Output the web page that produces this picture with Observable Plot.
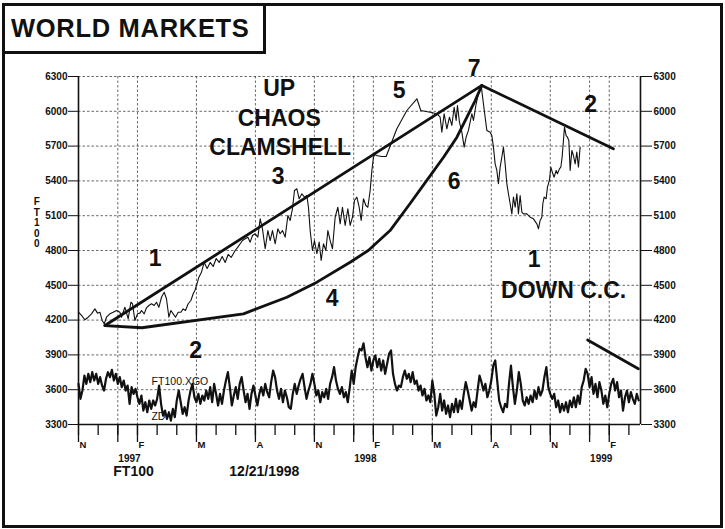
<!DOCTYPE html>
<html>
<head>
<meta charset="utf-8">
<script src="https://cdn.jsdelivr.net/npm/d3@7"></script>
<script src="https://cdn.jsdelivr.net/npm/@observablehq/plot@0.6"></script>
<style>
html,body{margin:0;padding:0;background:#fff;}
#page{position:relative;width:725px;height:529px;overflow:hidden;font-family:"Liberation Sans",Arial,sans-serif;}
#chart{position:absolute;left:0;top:0;}
#border{position:absolute;left:2px;top:3px;width:715px;height:519px;border:3px solid #111;}
#titlebox{position:absolute;left:2px;top:3px;width:258px;height:45px;border:3px solid #111;}
#title{position:absolute;left:11px;top:16px;font-size:25.5px;line-height:25px;font-weight:bold;letter-spacing:0.7px;color:#111;white-space:nowrap;}
</style>
</head>
<body>
<div id="page">
  <div id="chart"></div>
  <div id="border"></div>
  <div id="titlebox"></div>
  <div id="title">WORLD MARKETS</div>
</div>
<script>
// ---- axes / ticks ----
const xDomain = [0, 28.59];            // months since Nov 1996
const yDomain = [3300, 6300];
const yTicks = [3300, 3600, 3900, 4200, 4500, 4800, 5100, 5400, 5700, 6000, 6300];
const yGrid = [3600, 3900, 4200, 4500, 4800, 5100, 5400, 5700, 6000, 6300];
const allMonths = [0,1,2,3,4,5,6,7,8,9,10,11,12,13,14,15,16,17,18,19,20,21,22,23,24,25,26,27,28];
const majorMonths = [0,2,3,6,9,12,14,15,18,21,24,26,27];
const gridMonths = [2,3,6,9,12,14,15,18,21,24,26,27];
const monthLabelPos = [0,3,6,9,12,15,18,21,24,27];
const monthLabelText = ["N","F","M","A","N","F","M","A","N","F"];
const yearLabelPos = [2,14,26];
const yearLabelText = ["1997","1998","1999"];

// ---- FT100 price ----
const priceMonth = [0,0.153,0.326,0.493,0.661,0.834,0.966,1.089,1.205,1.307,1.424,1.597,1.765,1.933,2.106,2.187,2.36,2.528,2.665,2.747,2.869,3.001,3.123,3.204,3.342,3.459,3.581,3.713,3.85,3.967,4.09,4.222,4.359,4.476,4.598,4.7,4.817,4.934,5.071,5.209,5.326,5.443,5.58,5.717,5.834,5.921,6.002,6.124,6.256,6.394,6.546,6.699,6.852,7.004,7.157,7.309,7.462,7.614,7.767,7.97,8.108,8.225,8.342,8.479,8.616,8.733,8.851,8.988,9.125,9.242,9.359,9.497,9.634,9.751,9.868,10.005,10.142,10.259,10.376,10.514,10.651,10.768,10.885,10.987,11.109,11.226,11.363,11.495,11.618,11.699,11.785,11.902,12.004,12.126,12.243,12.345,12.462,12.584,12.686,12.803,12.92,13.057,13.194,13.311,13.428,13.566,13.703,13.82,13.937,14.039,14.161,14.278,14.38,14.497,14.619,14.72,14.837,14.924,15.005,15.092,15.143,15.433,15.651,16.195,16.704,17.213,17.416,17.889,18.23,18.398,18.484,18.601,18.739,18.871,18.993,19.11,19.212,19.278,19.38,19.502,19.619,19.72,19.837,20.01,20.092,20.229,20.346,20.483,20.6,20.687,20.773,20.941,21.028,21.109,21.196,21.282,21.363,21.45,21.536,21.618,21.704,21.791,21.872,21.959,22.045,22.126,22.213,22.299,22.381,22.467,22.554,22.635,22.808,22.976,23.144,23.317,23.398,23.484,23.571,23.622,23.688,23.79,23.856,23.957,24.029,24.13,24.197,24.298,24.364,24.466,24.537,24.603,24.67,24.721,24.807,24.873,24.944,25.011,25.097,25.178,25.265,25.351,25.432,25.519];
const priceValue = [4268,4240,4203,4225,4254,4297,4260,4268,4197,4168,4225,4254,4268,4283,4268,4225,4311,4211,4354,4341,4197,4254,4260,4283,4254,4306,4326,4341,4326,4354,4311,4397,4441,4384,4225,4283,4254,4225,4268,4268,4297,4283,4341,4369,4427,4455,4498,4570,4613,4697,4645,4697,4662,4731,4697,4748,4697,4766,4740,4800,4829,4858,4886,4901,4915,4872,4929,4944,4915,5073,4987,4815,4972,4886,4972,4858,4987,4944,4972,4915,5102,5059,5160,5317,5332,5246,5289,5260,5274,5173,4972,4800,4886,4772,4872,4714,4858,4800,4972,4886,4815,5087,5173,5030,5173,5016,5160,5016,5087,5231,5260,5173,5059,5246,5188,5173,5317,5490,5604,5634,5619,5610,5610,5849,6007,6108,6007,5992,5979,5949,5820,5979,5849,5949,5878,6035,5921,6050,5906,5820,5691,5777,5835,5979,5921,6065,6151,6223,6065,5949,5835,5820,5791,5691,5547,5490,5375,5518,5604,5691,5547,5375,5289,5203,5116,5260,5173,5289,5116,5274,5130,5116,5116,5087,5073,5030,4987,5059,5087,5203,5260,5246,5346,5404,5518,5461,5432,5490,5461,5504,5518,5604,5748,5863,5791,5777,5748,5490,5662,5619,5547,5648,5518,5691];

// ---- FT100.XGO oscillator (one reading every 0.1 month from Nov 1996) ----
const oscStep = 0.1;
const oscValue = [3650,3521,3593,3722,3650,3737,3665,3751,3679,3737,
3650,3708,3636,3593,3694,3751,3708,3771,3679,3737,
3650,3708,3622,3679,3593,3636,3478,3622,3564,3607,
3535,3478,3550,3420,3492,3406,3507,3435,3507,3464,
3521,3636,3478,3377,3420,3349,3406,3334,3435,3363,
3507,3593,3492,3392,3449,3377,3507,3593,3650,3535,
3492,3564,3478,3550,3507,3593,3521,3622,3492,3650,
3564,3464,3564,3478,3593,3679,3751,3622,3464,3550,
3622,3521,3650,3708,3593,3492,3564,3435,3564,3636,
3550,3464,3564,3622,3550,3650,3579,3535,3665,3765,
3708,3593,3521,3607,3492,3593,3535,3449,3435,3564,
3650,3564,3636,3694,3737,3622,3521,3593,3650,3737,
3650,3550,3593,3492,3579,3535,3607,3521,3650,3708,
3794,3679,3607,3564,3622,3535,3579,3492,3622,3765,
3650,3794,3880,3952,3938,4000,3880,3794,3880,3765,
3852,3895,3794,3866,3765,3852,3737,3823,3909,3938,
3737,3650,3593,3636,3622,3708,3765,3694,3737,3665,
3751,3650,3679,3593,3636,3550,3607,3507,3550,3492,
3679,3564,3377,3449,3564,3420,3507,3392,3464,3363,
3478,3406,3521,3406,3507,3435,3564,3665,3593,3507,
3420,3492,3449,3593,3722,3665,3593,3650,3535,3593,
3679,3808,3852,3679,3507,3449,3406,3478,3449,3650,
3808,3622,3478,3593,3751,3650,3507,3464,3535,3478,
3550,3492,3593,3521,3622,3550,3593,3708,3794,3622,
3564,3521,3564,3449,3507,3406,3478,3420,3492,3406,
3507,3449,3535,3449,3550,3478,3622,3679,3780,3737,
3622,3708,3564,3650,3535,3665,3593,3478,3550,3449,
3564,3650,3694,3593,3665,3535,3593,3420,3535,3593,
3492,3579,3521,3478,3564,3507];

// ---- hand-drawn trend lines ----
const upLineMonth = [1.343, 20.52];
const upLineValue = [4153, 6223];
const clamMonth = [1.343,3.225,8.393,10.60,12.13,13.82,14.74,15.85,16.87,17.72,18.57,19.25,19.76,20.18,20.52];
const clamValue = [4153,4134,4254,4397,4527,4699,4800,4972,5205,5404,5604,5777,5949,6093,6223];
const downLineMonth = [20.52, 27.21];
const downLineValue = [6223, 5677];
const shortLineMonth = [25.90, 28.48];
const shortLineValue = [4029, 3780];

// ---- annotation labels ----
const noteText  = ["UP","CHAOS","CLAMSHELL","1","2","3","4","5","6","7","2","1","DOWN C.C."];
const noteMonth = [10.21,10.21,10.26,3.90,5.96,10.16,12.90,16.31,19.11,20.13,26.05,23.18,24.68];
const noteValue = [6192,5938,5688,4727,3934,5434,4386,6175,5395,6369,6059,4722,4455];

const footText = ["FT100", "12/21/1998"];
const footMonth = [2.80, 9.455];

const seriesLabels = [
  {t: "FT100.XGO", m: 3.72, v: 3671},
  {t: "ZD", m: 3.71, v: 3369}
];
const yLabel = {t: "F\nT\n1\n0\n0", m: -2.12, v: 5037};

// ---- build tables ----
const zip = (a, b) => a.map((m, i) => ({m, v: b[i]}));
const price = zip(priceMonth, priceValue);
const osc = oscValue.map((v, i) => ({m: i * oscStep, v}));
const upLine = zip(upLineMonth, upLineValue);
const clam = zip(clamMonth, clamValue);
const downLine = zip(downLineMonth, downLineValue);
const shortLine = zip(shortLineMonth, shortLineValue);
const notes = noteText.map((t, i) => ({t, m: noteMonth[i], v: noteValue[i]}));
const foot = footText.map((t, i) => ({t, m: footMonth[i]}));
const monthLabels = monthLabelText.map((t, i) => ({t, m: monthLabelPos[i]}));
const yearLabels = yearLabelText.map((t, i) => ({t, m: yearLabelPos[i]}));

const font = "'Liberation Sans', Arial, sans-serif";
const trend = {x: "m", y: "v", stroke: "#111", strokeWidth: 2.8, strokeLinecap: "round", strokeLinejoin: "round"};

const chart = Plot.plot({
  width: 725,
  height: 529,
  marginLeft: 78,
  marginRight: 85,
  marginTop: 76,
  marginBottom: 105,
  x: {domain: xDomain},
  y: {domain: yDomain},
  style: {fontFamily: font, fontSize: "10px", background: "white", color: "#111", overflow: "visible"},
  marks: [
    Plot.gridY({ticks: yGrid, stroke: "#444", strokeOpacity: 1, strokeWidth: 0.8, strokeDasharray: "2.5,2"}),
    Plot.gridX({ticks: gridMonths, stroke: "#444", strokeOpacity: 1, strokeWidth: 0.8, strokeDasharray: "2.5,2"}),
    Plot.ruleY([yDomain[0]], {stroke: "#111", strokeWidth: 1.6}),
    Plot.ruleX(xDomain, {stroke: "#111", strokeWidth: 1.6}),
    Plot.axisY({ticks: yTicks, anchor: "left", tickSize: 10, tickPadding: 1, tickFormat: d => String(d), label: null, fontSize: 10, fontWeight: "bold", stroke: "#111"}),
    Plot.axisY({ticks: yTicks, anchor: "right", tickSize: 11, tickPadding: 2, tickFormat: d => String(d), label: null, fontSize: 10, fontWeight: "bold", stroke: "#111"}),
    Plot.axisX({ticks: allMonths, tickSize: 11, tickFormat: () => "", label: null, strokeWidth: 1.3}),
    Plot.axisX({ticks: majorMonths, tickSize: 18, tickFormat: () => "", label: null, strokeWidth: 1.3}),
    Plot.text(monthLabels, {x: "m", text: "t", frameAnchor: "bottom", dy: 23.5, dx: 1, textAnchor: "start", fontSize: 9.5, fontWeight: "bold", fill: "#111"}),
    Plot.text(yearLabels, {x: "m", text: "t", frameAnchor: "bottom", dy: 37.5, dx: 0.5, textAnchor: "start", fontSize: 10, fontWeight: "bold", fill: "#111"}),
    Plot.text(foot, {x: "m", text: "t", frameAnchor: "bottom", dy: 51.5, fontSize: 14, fontWeight: "bold", fill: "#111"}),
    Plot.text([yLabel], {x: "m", y: "v", text: "t", fontSize: 10, fontWeight: "bold", lineHeight: 1.05, fill: "#111"}),
    Plot.line(osc, {x: "m", y: "v", stroke: "#111", strokeWidth: 2.2, strokeLinejoin: "round"}),
    Plot.text(seriesLabels, {x: "m", y: "v", text: "t", textAnchor: "start", fontSize: 10.5, fill: "#111"}),
    Plot.line(price, {x: "m", y: "v", stroke: "#111", strokeWidth: 1.1}),
    Plot.line(upLine, trend),
    Plot.line(clam, trend),
    Plot.line(downLine, trend),
    Plot.line(shortLine, trend),
    Plot.text(notes, {x: "m", y: "v", text: "t", fontSize: 23, fontWeight: "bold", fill: "#111"})
  ]
});
document.getElementById("chart").appendChild(chart);
</script>
</body>
</html>
